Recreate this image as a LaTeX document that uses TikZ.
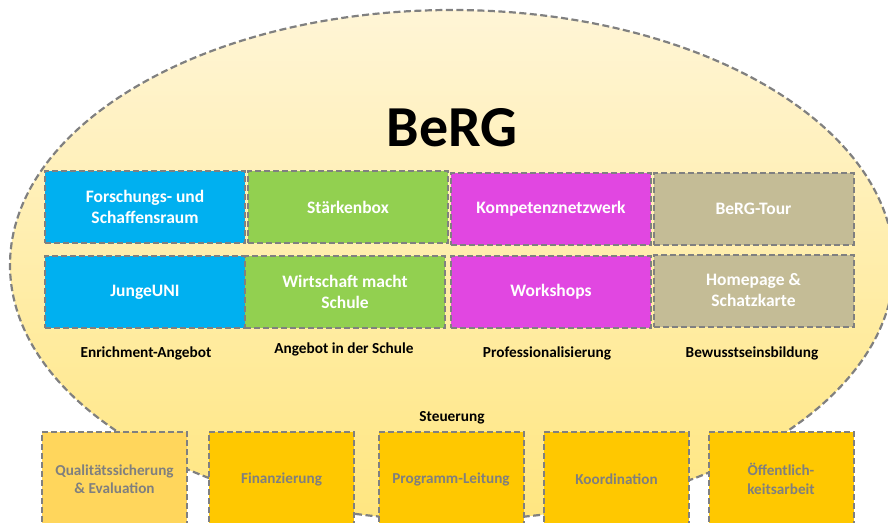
\documentclass[tikz,border=0pt]{standalone}
\usepackage{fontspec}
\setmainfont{Carlito}
\definecolor{bordergray}{HTML}{808080}
\definecolor{cblue}{HTML}{00B0F0}
\definecolor{cgreen}{HTML}{92D050}
\definecolor{cmag}{HTML}{E147E1}
\definecolor{ckhaki}{HTML}{C4BC96}
\definecolor{cgold}{HTML}{FFC800}
\definecolor{clightgold}{HTML}{FFD65C}
\definecolor{elltop}{HTML}{FFF5D6}
\definecolor{ellbot}{HTML}{FFE680}
\definecolor{txtgray}{HTML}{7F7F7F}
\begin{document}
\begin{tikzpicture}[x=1pt,y=-1pt]
\tikzset{
  topbox/.style={draw=bordergray, line width=2pt, dash pattern=on 6pt off 3pt,
    minimum width=200pt, minimum height=72pt, inner sep=2pt, align=center,
    text=white, font=\fontsize{17.5}{21}\selectfont\bfseries},
  botbox/.style={draw=bordergray, line width=2pt, dash pattern=on 6pt off 3pt,
    minimum width=145pt, minimum height=94pt, inner sep=2pt, align=center,
    text=txtgray, fill=cgold, font=\fontsize{15.2}{18.5}\selectfont\bfseries},
  catlabel/.style={font=\fontsize{15.3}{18}\selectfont\bfseries, text=black},
}
\clip (0,0) rectangle (888,522);
% big ellipse
\path[top color=elltop, bottom color=ellbot] (452,265) ellipse [x radius=442pt, y radius=255pt];
\draw[bordergray, line width=2.2pt, dash pattern=on 7pt off 3.5pt] (452,265) ellipse [x radius=442pt, y radius=255pt];
% title
\node[font=\fontsize{58}{60}\selectfont\bfseries] (title) at (452,128) {BeRG};
% row 1
\node[topbox, fill=cblue] (forsch) at (145,207) {Forschungs- und\\Schaffensraum};
\node[topbox, fill=cgreen] (staerk) at (348,207) {Stärkenbox};
\node[topbox, fill=cmag] (kompet) at (551,209) {Kompetenznetzwerk};
\node[topbox, fill=ckhaki] (tour) at (753.5,209) {BeRG-Tour};
% row 2
\node[topbox, fill=cblue] (junge) at (145,292) {JungeUNI};
\node[topbox, fill=cgreen] (wirt) at (345,292) {Wirtschaft macht\\Schule};
\node[topbox, fill=cmag] (work) at (551,292) {Workshops};
\node[topbox, fill=ckhaki] (home) at (753.5,290.5) {Homepage \&\\Schatzkarte};
% category labels
\node[catlabel] (l1) at (146,353) {Enrichment-Angebot};
\node[catlabel] (l2) at (344,349) {Angebot in der Schule};
\node[catlabel] (l3) at (547,353) {Professionalisierung};
\node[catlabel] (l4) at (752,353) {Bewusstseinsbildung};
% Steuerung
\node[catlabel] (steu) at (452,418) {Steuerung};
% bottom boxes
\node[botbox, fill=clightgold] (qual) at (114.5,479) {Qualitätssicherung\\\& Evaluation};
\node[botbox] (fin) at (281.5,479) {Finanzierung};
\node[botbox] (prog) at (451,479) {Programm-Leitung};
\node[botbox] (koord) at (616.5,479) {Koordination};
\node[botbox] (oeff) at (781,479) {Öffentlich-\\keitsarbeit};
\end{tikzpicture}
\end{document}
